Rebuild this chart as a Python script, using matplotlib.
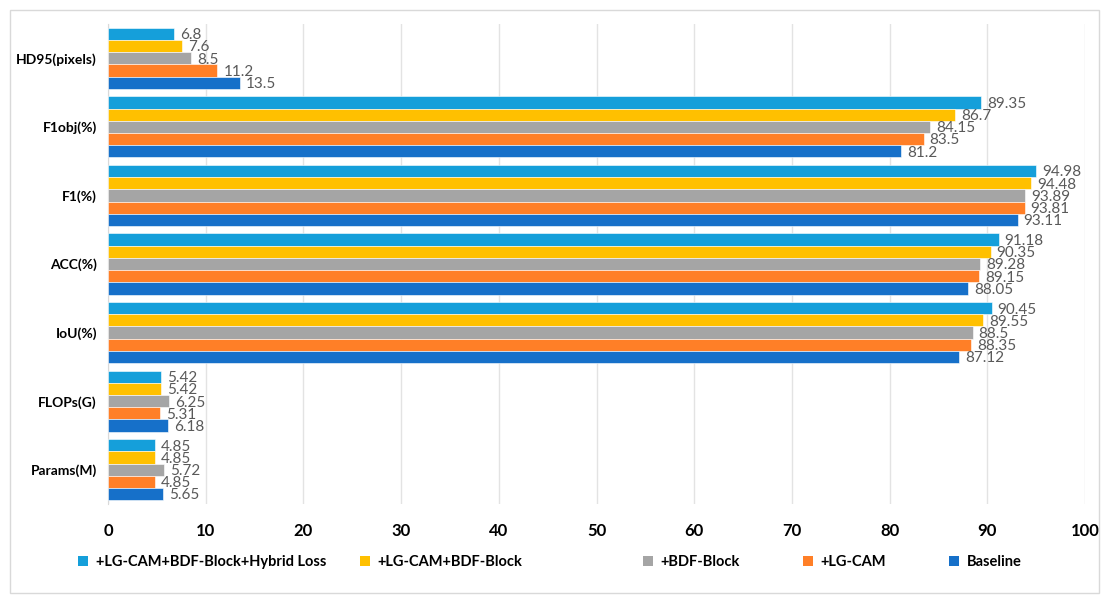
import numpy as np
import matplotlib
matplotlib.use("Agg")
import matplotlib.pyplot as plt
from matplotlib.patches import Rectangle, Patch

# ---------------------------------------------------------
# Data
# ---------------------------------------------------------
CATEGORIES = ["HD95(pixels)", "F1obj(%)", "F1(%)", "ACC(%)", "IoU(%)", "FLOPs(G)", "Params(M)"]

SERIES = [
    "+LG-CAM+BDF-Block+Hybrid Loss",
    "+LG-CAM+BDF-Block",
    "+BDF-Block",
    "+LG-CAM",
    "Baseline",
]

hybrid = [6.8, 89.35, 94.98, 91.18, 90.45, 5.42, 4.85]
lgcam_bdf = [7.6, 86.7, 94.48, 90.35, 89.55, 5.42, 4.85]
bdf = [8.5, 84.15, 93.89, 89.28, 88.5, 6.25, 5.72]
lgcam = [11.2, 83.5, 93.81, 89.15, 88.35, 5.31, 4.85]
baseline = [13.5, 81.2, 93.11, 88.05, 87.12, 6.18, 5.65]

VALUES = [hybrid, lgcam_bdf, bdf, lgcam, baseline]
LABELS = [
    ["6.8", "89.35", "94.98", "91.18", "90.45", "5.42", "4.85"],
    ["7.6", "86.7", "94.48", "90.35", "89.55", "5.42", "4.85"],
    ["8.5", "84.15", "93.89", "89.28", "88.5", "6.25", "5.72"],
    ["11.2", "83.5", "93.81", "89.15", "88.35", "5.31", "4.85"],
    ["13.5", "81.2", "93.11", "88.05", "87.12", "6.18", "5.65"],
]

COLORS = ["#159FDA", "#FFC000", "#A5A5A5", "#FF7F27", "#1670C9"]

# legend entry left edges (pixels), Excel-style spacing
LEGEND_X = [78, 360, 643, 803, 949]

plt.rcParams["font.family"] = ["Lato", "DejaVu Sans"]

# ---------------------------------------------------------
# Plot
# ---------------------------------------------------------
W, H = 1109, 603
fig = plt.figure(figsize=(W / 100, H / 100), dpi=100)
fig.patches.append(Rectangle((10 / W, 10 / H), 1089 / W, 583 / H,
                             transform=fig.transFigure, fill=False,
                             edgecolor="#D9D9D9", linewidth=1.0))

ax = fig.add_axes([108 / W, 1 - 504 / H, 977 / W, 480 / H])

y = np.arange(len(CATEGORIES))
h = 0.178
for j, (vals, lbls) in enumerate(zip(VALUES, LABELS)):
    pos = y + (j - 2) * h
    ax.barh(pos, vals, height=h, color=COLORS[j], edgecolor="white",
            linewidth=0.4, label=SERIES[j], zorder=3)
    for p, v, t in zip(pos, vals, lbls):
        ax.text(v + 0.6, p + 0.02, t, va="center", ha="left",
                fontsize=11, color="#595959", zorder=4)

ax.set_xlim(0, 100)
ax.set_ylim(len(CATEGORIES) - 0.5, -0.5)
ax.set_xticks(np.arange(0, 101, 10))
ax.set_yticks(y)
ax.set_yticklabels(CATEGORIES, fontsize=10, fontweight="bold")
for t in ax.get_xticklabels():
    t.set_fontsize(12)
    t.set_fontweight("bold")
ax.tick_params(axis="both", length=0)
ax.tick_params(axis="x", pad=14)
ax.tick_params(axis="y", pad=8)
ax.grid(axis="x", color="#E3E3E3", linewidth=1.0, zorder=0)
for s in ["top", "right", "bottom"]:
    ax.spines[s].set_visible(False)
ax.spines["left"].set_color("#D9D9D9")

# one legend per entry, so the spacing can follow the reference
for j, name in enumerate(SERIES):
    handle = Patch(facecolor=COLORS[j], edgecolor="none")
    fig.legend([handle], [name], loc="center left",
               bbox_to_anchor=(LEGEND_X[j] / W, 1 - 562 / H),
               frameon=False, borderpad=0, borderaxespad=0,
               prop={"size": 10.5, "weight": "bold"}, handlelength=0.7,
               handleheight=0.7, handletextpad=0.5)

plt.savefig("out.png", dpi=100)
plt.close(fig)
